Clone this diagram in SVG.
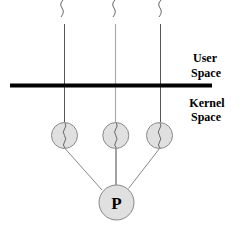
<svg xmlns="http://www.w3.org/2000/svg" width="241" height="226" viewBox="0 0 241 226">
<style>
.lbl{font-family:"Liberation Serif","Times New Roman",serif;font-weight:bold;font-size:12px;fill:#000;text-anchor:middle}
.sq{fill:none;stroke:#666;stroke-width:1}
.thr{fill:#e0e0e0;stroke:#888;stroke-width:1}
.dk{stroke:#555;stroke-width:1}
.lt{stroke:#aaa;stroke-width:1.2}
</style>
<defs>
<path id="wave" class="sq" d="M1,0 Q-3,4 0,8 Q3,12 -1,17"/>
<path id="iwave" class="sq" d="M0.5,0 Q2.5,3 0,6 Q-2.5,9 0,12.5 Q2.5,16 0,19 Q-2.5,22 0.5,25"/>
</defs>
<rect width="241" height="226" fill="#fff"/>
<g id="connectors">
<line class="dk" x1="64.5" y1="24" x2="64.5" y2="122"/>
<line class="lt" x1="115.5" y1="24" x2="115.5" y2="122"/>
<line class="dk" x1="160.5" y1="24" x2="160.5" y2="122"/>
<line x1="65" y1="148.5" x2="102" y2="190" stroke="#888" stroke-width="1"/>
<line x1="116" y1="148.5" x2="116" y2="185" stroke="#444" stroke-width="1"/>
<line x1="159.5" y1="148.5" x2="128.5" y2="188.5" stroke="#888" stroke-width="1"/>
</g>
<g id="user-threads">
<use href="#wave" x="62" y="0"/>
<use href="#wave" x="114" y="0"/>
<use href="#wave" x="160" y="0"/>
</g>
<g id="boundary">
<line x1="10" y1="85.5" x2="212" y2="85.5" stroke="#000" stroke-width="4"/>
</g>
<g id="labels">
<text class="lbl" x="205" y="62">User</text>
<text class="lbl" x="206" y="77">Space</text>
<text class="lbl" x="207" y="107">Kernel</text>
<text class="lbl" x="206" y="121">Space</text>
</g>
<g id="kt1">
<circle class="thr" cx="64.5" cy="135.5" r="13"/>
<use href="#iwave" x="64.5" y="123"/>
</g>
<g id="kt2">
<circle class="thr" cx="115.8" cy="135.5" r="13"/>
<use href="#iwave" x="115.8" y="123"/>
</g>
<g id="kt3">
<circle class="thr" cx="159.5" cy="135.5" r="13"/>
<use href="#iwave" x="159.5" y="123"/>
</g>
<g id="process">
<circle class="thr" cx="116.5" cy="202.5" r="17.5"/>
<text x="116.5" y="208.5" font-family="Liberation Serif,'Times New Roman',serif" font-weight="bold" font-size="17" text-anchor="middle">P</text>
</g>
</svg>
